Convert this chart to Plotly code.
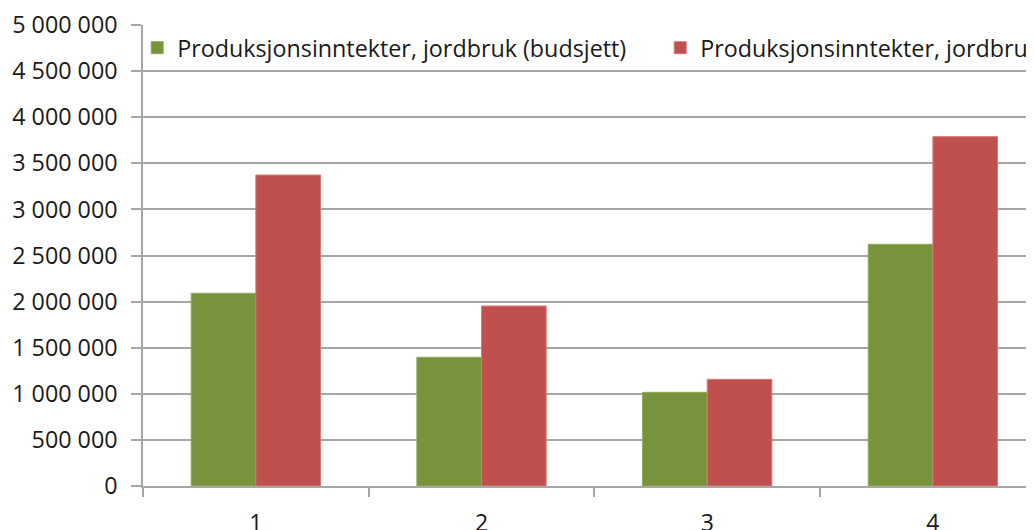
import plotly.graph_objects as go

categories = ["1", "2", "3", "4"]
budsjett = [2090000, 1396000, 1016000, 2621000]
regnskap = [3373000, 1952000, 1157000, 3789000]
name_budsjett = "Produksjonsinntekter, jordbruk (budsjett)"
name_regnskap = "Produksjonsinntekter, jordbruk (regnskap)"

FONT = "Open Sans"
TXT = "#1a1a1a"
GRID = "#a6a6a6"

fig = go.Figure()
fig.add_trace(go.Bar(x=categories, y=budsjett, name=name_budsjett, showlegend=True,
                     marker=dict(color="#77933C", line=dict(color="#8fab55", width=1)),
                     legend="legend"))
fig.add_trace(go.Bar(x=categories, y=regnskap, name=name_regnskap, showlegend=True,
                     marker=dict(color="#C0504D", line=dict(color="#d47a77", width=1)),
                     legend="legend2"))

legend_common = dict(orientation="h", xref="container", yref="paper",
                     xanchor="left", yanchor="middle", y=0.95,
                     bgcolor="rgba(0,0,0,0)", borderwidth=0,
                     font=dict(family=FONT, size=23.3, color=TXT))

fig.update_layout(
    width=1026, height=522,
    margin=dict(l=135, r=0, t=17, b=44, autoexpand=False),
    paper_bgcolor="white", plot_bgcolor="white",
    separators=", ",
    showlegend=True,
    barmode="group", bargap=0.427, bargroupgap=0,
    font=dict(family=FONT, size=23, color=TXT),
    legend=dict(x=0.1259, **legend_common),
    legend2=dict(x=0.6357, **legend_common),
    xaxis=dict(type="category", range=[-0.5, 3.448],
               tickson="boundaries", ticks="outside", ticklen=9,
               tickcolor=GRID, tickwidth=1.5,
               showline=True, linecolor=GRID, linewidth=1.5,
               showgrid=False, ticklabelstandoff=16,
               tickfont=dict(family=FONT, size=23, color=TXT)),
    yaxis=dict(range=[0, 5000000], dtick=500000, tickformat=",d",
               ticks="outside", ticklen=10, tickcolor=GRID, tickwidth=1.5,
               showline=True, linecolor=GRID, linewidth=1.5,
               showgrid=True, gridcolor=GRID, gridwidth=1.5,
               zeroline=False, ticklabelstandoff=9,
               tickfont=dict(family=FONT, size=23.3, color=TXT)),
)

fig.write_html("out.html")
